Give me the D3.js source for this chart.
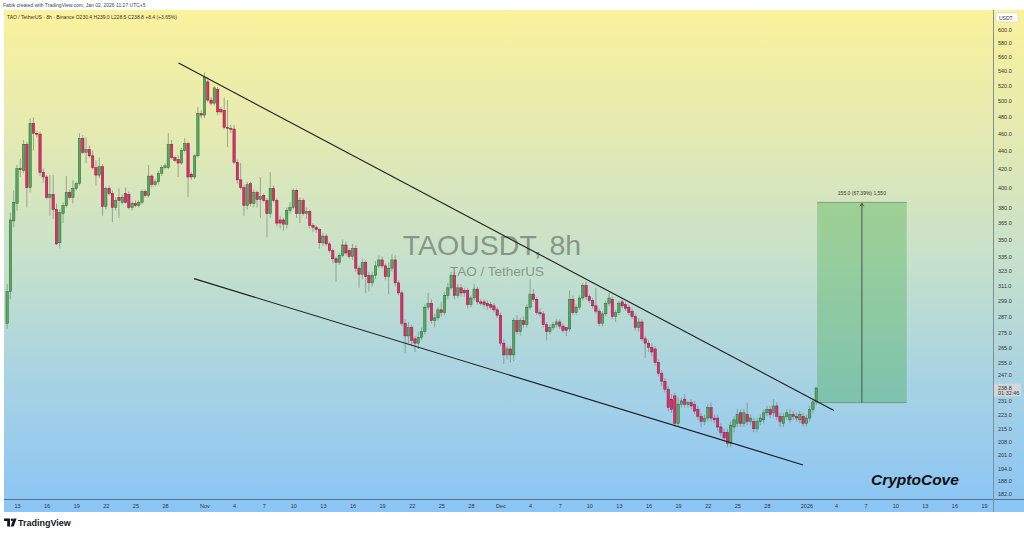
<!DOCTYPE html>
<html><head><meta charset="utf-8">
<script src="https://cdn.jsdelivr.net/npm/d3@7"></script>
<style>html,body{margin:0;padding:0;background:#fff;}svg{display:block;font-family:"Liberation Sans",Arial,sans-serif;}</style>
</head><body><svg id="c" width="1024" height="535"></svg>
<script>
// ---- data ----
const symbolTitle = "TAOUSDT, 8h";
const symbolSub = "TAO / TetherUS";
const headerTop = "Fabik created with TradingView.com, Jan 02, 2026 11:27 UTC+5";
const headerLegend = "TAO / TetherUS · 8h · Binance   O230.4  H239.0  L228.5  C238.8  +8.4 (+3.65%)";
const firstCandle = "2025-10-12T00:00:00Z";
const candleHours = 8;
const opens = [282,306,367,384,420,418,447,400,472,460,
459,416,411,390,393,378,347,374,382,395,
390,399,404,454,438,441,434,421,413,422,
381,399,394,380,390,385,394,393,380,384,
382,385,396,392,412,403,406,415,421,421,
447,432,430,426,440,448,414,411,434,484,
482,525,501,497,515,489,488,467,466,465,
427,408,400,382,404,384,395,388,392,387,
374,399,387,368,368,364,377,380,397,374,
387,374,376,363,361,359,347,353,346,340,
333,330,336,345,340,335,342,325,320,330,
319,313,319,327,332,327,318,325,332,313,
305,282,273,279,271,268,272,276,294,297,
284,286,292,290,303,309,319,303,309,307,
307,296,301,308,298,298,297,296,295,292,
288,268,260,264,260,284,276,284,281,294,
304,300,290,289,281,276,279,281,283,280,
279,278,300,290,294,301,311,302,299,295,
291,282,289,297,300,287,290,298,296,294,
291,287,279,283,271,268,265,264,255,248,
243,238,232,234,218,229,232,229,230,229,
226,222,219,221,227,221,221,216,213,213,
207,216,218,224,218,223,219,219,215,219,
220,224,226,224,228,222,218,222,220,223,
222,220,222,218,221,226,230.4];
const highs = [312,375,397,424,431,452,450,478,479,463,
462,420,413,413,413,384,378,385,412,398,
408,406,460,458,455,446,440,429,432,425,
401,402,397,390,399,393,400,396,386,387,
387,398,398,424,414,409,418,424,426,460,
452,434,435,443,454,450,416,436,492,488,
538,532,505,519,518,492,504,501,470,470,
430,426,403,406,406,398,397,411,394,389,
416,402,389,372,370,380,385,399,399,390,
389,380,378,365,363,360,356,355,348,342,
335,338,350,348,342,346,345,327,333,332,
322,322,331,336,335,329,330,337,336,315,
307,285,283,281,273,276,279,296,305,300,
289,294,298,306,313,322,322,312,312,309,
309,303,312,310,300,300,299,298,297,294,
290,271,266,266,286,288,286,287,296,316,
308,302,293,291,283,281,283,285,285,282,
279,307,303,296,303,313,314,304,301,309,
293,291,299,305,302,292,299,300,298,296,
293,289,286,285,273,270,268,266,257,250,
245,240,235,236,233,233,235,231,232,231,
228,224,223,229,230,223,223,218,215,215,
219,222,226,226,226,230,223,221,221,223,
226,228,228,232,230,224,224,226,226,225,
224,225,224,223,228,232,239.0];
const lows = [278,300,361,377,411,415,380,395,440,455,
412,405,388,372,369,345,342,365,380,388,
384,397,402,436,426,432,419,402,410,372,
378,392,366,377,370,383,384,378,377,380,
380,383,390,390,400,401,403,412,419,419,
430,427,411,424,438,390,408,409,432,478,
478,498,494,494,482,483,465,444,460,425,
404,398,372,378,381,380,380,370,385,352,
370,385,362,360,358,360,374,378,370,365,
372,369,360,357,356,342,344,344,338,329,
314,328,334,336,333,332,322,309,316,305,
306,310,316,325,325,315,304,322,310,303,
280,261,268,266,262,264,270,274,292,282,
279,284,287,288,300,307,300,301,302,302,
293,294,299,296,295,293,292,292,290,286,
266,254,257,255,256,274,273,279,279,292,
298,288,287,279,270,274,277,279,278,275,
273,276,288,288,292,299,300,297,293,289,
280,280,287,295,285,283,288,293,291,288,
285,277,276,269,258,262,259,253,246,240,
236,225,224,216,216,227,227,227,226,223,
220,216,217,219,219,218,214,211,208,205,
205,213,216,216,216,217,217,213,213,217,
218,222,221,222,220,216,216,220,218,220,
219,218,216,216,219,224,228.5];
const closes = [306,368,385,420,419,447,400,472,460,459,
416,411,390,393,378,346,375,382,395,390,
399,404,454,438,441,434,421,413,422,381,
399,394,380,387,387,390,385,380,384,382,
385,396,392,412,403,406,415,421,423,447,
432,429,426,440,448,411,411,434,484,482,
531,501,497,517,486,486,467,466,465,427,
408,400,382,403,384,395,388,391,387,374,
399,387,365,365,364,377,380,397,374,387,
374,376,363,361,359,347,353,346,340,333,
330,336,345,338,335,342,325,320,330,318,
313,319,327,332,327,318,325,332,313,305,
282,273,279,270,268,272,276,294,297,284,
286,292,290,303,309,319,303,309,305,305,
296,301,308,298,297,296,295,294,292,288,
268,260,264,260,284,276,284,281,294,304,
300,290,289,281,276,279,281,283,280,277,
277,300,290,294,301,311,302,299,295,291,
282,289,297,301,287,290,297,295,293,290,
287,279,283,271,268,265,262,255,248,243,
238,227,226,218,229,231,229,230,228,225,
222,219,221,227,221,220,216,213,210,207,
217,220,223,218,224,219,221,215,219,221,
224,226,223,228,222,219,222,224,223,222,
221,223,218,221,226,230.4,238.8];
const priceTicks = [600,580,560,540,520,500,480,460,440,420,400,380,365,350,335,323,311,299,287,275,265,255,247,231,223,215,208,201,194,188,182];
const dateTicks = ["2025-10-13","2025-10-16","2025-10-19","2025-10-22","2025-10-25","2025-10-28","2025-11-01","2025-11-04","2025-11-07","2025-11-10","2025-11-13","2025-11-16","2025-11-19","2025-11-22","2025-11-25","2025-11-28","2025-12-01","2025-12-04","2025-12-07","2025-12-10","2025-12-13","2025-12-16","2025-12-19","2025-12-22","2025-12-25","2025-12-28","2026-01-01","2026-01-04","2026-01-07","2026-01-10","2026-01-13","2026-01-16","2026-01-19"];
const dateTickLabels = ["13","16","19","22","25","28","Nov","4","7","10","13","16","19","22","25","28","Dec","4","7","10","13","16","19","22","25","28","2026","4","7","10","13","16","19"];
const upperLineTimes = ["2025-10-29T09:00:00Z","2026-01-03T19:00:00Z"];
const upperLinePrices = [551,225.3];
const lowerLineTimes = ["2025-10-30T22:30:00Z","2025-12-31T16:00:00Z"];
const lowerLinePrices = [316.4,195.9];
const rangeTimes = ["2026-01-02T02:00:00Z","2026-01-11T04:00:00Z"];
const rangePrices = [230,385];
const rangeLabel = "155.0 (67.39%) 1,550";
const lastPrice = 238.8;
const countdown = "01:32:46";
const signature = "CryptoCove";

// ---- layout ----
const W = 1024, H = 535;
const pane = {x0:4, x1:993, y0:10, y1:499};
const svg = d3.select("#c");
const x = d3.scaleUtc().domain([new Date("2025-10-13T00:00:00Z"), new Date("2026-01-19T00:00:00Z")]).range([17,984]);
const y = d3.scaleLog().domain([182,600]).range([493.5,30]);

const defs = svg.append("defs");
const g = defs.append("linearGradient").attr("id","bg").attr("x1",0).attr("y1",0).attr("x2",0).attr("y2",1);
[[0,"rgb(250,242,156)"],[0.25,"rgb(228,234,178)"],[0.5,"rgb(198,225,203)"],[0.75,"rgb(166,210,228)"],[1,"rgb(138,197,246)"]]
  .forEach(s=>g.append("stop").attr("offset",s[0]).attr("stop-color",s[1]));
defs.append("clipPath").attr("id","clip").append("rect").attr("x",pane.x0).attr("y",pane.y0).attr("width",pane.x1-pane.x0).attr("height",pane.y1-pane.y0);

svg.append("rect").attr("width",W).attr("height",H).attr("fill","#fff");
svg.append("rect").attr("x",pane.x0).attr("y",pane.y0).attr("width",W-pane.x0).attr("height",512-pane.y0).attr("fill","url(#bg)");

// header
svg.append("text").attr("x",3).attr("y",6.5).attr("font-size",5).attr("fill","#444").text(headerTop);
svg.append("text").attr("x",7).attr("y",18.5).attr("font-size",5).attr("fill","#333").text(headerLegend);

const plot = svg.append("g").attr("clip-path","url(#clip)");

// watermark
plot.append("text").attr("x",492).attr("y",255).attr("text-anchor","middle").attr("font-size",28.5).attr("fill","#7b897c").attr("fill-opacity",0.85).text(symbolTitle);
plot.append("text").attr("x",497).attr("y",276).attr("text-anchor","middle").attr("font-size",13.5).attr("fill","#7b897c").attr("fill-opacity",0.85).text(symbolSub);

// range box
const rx0 = x(new Date(rangeTimes[0])), rx1 = x(new Date(rangeTimes[1]));
const ry0 = y(rangePrices[1]), ry1 = y(rangePrices[0]);
plot.append("rect").attr("x",rx0).attr("y",ry0).attr("width",rx1-rx0).attr("height",ry1-ry0).attr("fill","rgb(60,170,70)").attr("fill-opacity",0.35);
plot.append("line").attr("x1",rx0).attr("x2",rx1).attr("y1",ry0).attr("y2",ry0).attr("stroke","#6f8f70").attr("stroke-width",0.8);
plot.append("line").attr("x1",rx0).attr("x2",rx1).attr("y1",ry1).attr("y2",ry1).attr("stroke","#6f8f70").attr("stroke-width",0.8);
const rxm = (rx0+rx1)/2;
plot.append("line").attr("x1",rxm).attr("x2",rxm).attr("y1",ry1).attr("y2",ry0+1).attr("stroke","#3c4a3c").attr("stroke-width",0.9);
plot.append("path").attr("d",`M${rxm-2},${ry0+4} L${rxm},${ry0+1} L${rxm+2},${ry0+4}`).attr("fill","none").attr("stroke","#3c4a3c").attr("stroke-width",0.9);
plot.append("text").attr("x",rxm).attr("y",ry0-7).attr("text-anchor","middle").attr("font-size",5).attr("fill","#333").text(rangeLabel);

// candles
const t0 = new Date(firstCandle).getTime();
const data = opens.map((o,i)=>({t:new Date(t0+i*candleHours*3600e3), o, h:highs[i], l:lows[i], c:closes[i]}));
const step = x(new Date(t0+candleHours*3600e3)) - x(new Date(t0));
const bw = step*0.72;
const cg = plot.append("g");
cg.selectAll("line.w").data(data).enter().append("line")
  .attr("x1",d=>x(d.t)).attr("x2",d=>x(d.t)).attr("y1",d=>y(d.h)).attr("y2",d=>y(d.l))
  .attr("stroke","#6c7a6d").attr("stroke-opacity",0.75).attr("stroke-width",0.8);
cg.selectAll("rect.b").data(data).enter().append("rect")
  .attr("x",d=>x(d.t)-bw/2).attr("y",d=>y(Math.max(d.o,d.c)))
  .attr("width",bw).attr("height",d=>Math.max(1,Math.abs(y(d.o)-y(d.c))))
  .attr("fill",d=>d.c>=d.o?"#58a860":"#d8306c")
  .attr("stroke",d=>d.c>=d.o?"#2c6b33":"#93193f").attr("stroke-width",0.5);

// trend lines
const tl = (times,prices)=>plot.append("line")
  .attr("x1",x(new Date(times[0]))).attr("y1",y(prices[0]))
  .attr("x2",x(new Date(times[1]))).attr("y2",y(prices[1]))
  .attr("stroke","#1e1e1e").attr("stroke-width",1.1);
tl(upperLineTimes,upperLinePrices);
tl(lowerLineTimes,lowerLinePrices);

// signature
svg.append("text").attr("x",871).attr("y",485).attr("font-size",15.5).attr("font-weight","bold").attr("font-style","italic").attr("fill","#111").text(signature);

// axes frame
svg.append("line").attr("x1",pane.x0).attr("x2",W).attr("y1",pane.y1+0.5).attr("y2",pane.y1+0.5).attr("stroke","#5a7188").attr("stroke-width",1);
svg.append("line").attr("x1",pane.x1+0.5).attr("x2",pane.x1+0.5).attr("y1",pane.y0).attr("y2",512).attr("stroke","#7e8e96").attr("stroke-width",1);

// bottom axis
const xa = svg.append("g").attr("transform",`translate(0,${pane.y1})`)
  .call(d3.axisBottom(x).tickValues(dateTicks.map(d=>new Date(d+"T00:00:00Z"))).tickFormat((d,i)=>dateTickLabels[i]).tickSize(0).tickPadding(5));
xa.select(".domain").remove();
xa.selectAll("text").attr("font-size",5.5).attr("fill","#333").attr("font-family","Liberation Sans, Arial, sans-serif");

// right axis
const ya = svg.append("g").attr("transform",`translate(${pane.x1},0)`)
  .call(d3.axisRight(y).tickValues(priceTicks).tickFormat(d=>d.toFixed(1)).tickSize(0).tickPadding(5));
ya.select(".domain").remove();
ya.selectAll("text").attr("font-size",5.5).attr("fill","#333").attr("font-family","Liberation Sans, Arial, sans-serif");

// USDT box
svg.append("rect").attr("x",996).attr("y",13).attr("width",22).attr("height",9).attr("fill","#fff").attr("stroke","#c8c8c8").attr("stroke-width",0.5).attr("rx",1);
svg.append("text").attr("x",999).attr("y",19.5).attr("font-size",5).attr("fill","#333").text("USDT");

// last price label
const ly = y(lastPrice);
svg.append("rect").attr("x",994).attr("y",ly-4.5).attr("width",27).attr("height",13).attr("fill","#d3d6da");
svg.append("text").attr("x",998).attr("y",ly+1.8).attr("font-size",5.5).attr("fill","#333").text(lastPrice.toFixed(1));
svg.append("text").attr("x",998).attr("y",ly+7.5).attr("font-size",5.5).attr("fill","#333").text(countdown);

// TradingView logo
const lg = svg.append("g").attr("fill","#131722");
lg.append("path").attr("d","M4,518.5 H10 V526.5 H7.2 V521 H4 Z");
lg.append("circle").attr("cx",12).attr("cy",519.8).attr("r",1.3);
lg.append("path").attr("d","M10.6,526.5 L13.6,518.5 H16.6 L13.6,526.5 Z");
svg.append("text").attr("x",18).attr("y",526).attr("font-size",9).attr("font-weight","bold").attr("fill","#131722").text("TradingView");
</script></body></html>
